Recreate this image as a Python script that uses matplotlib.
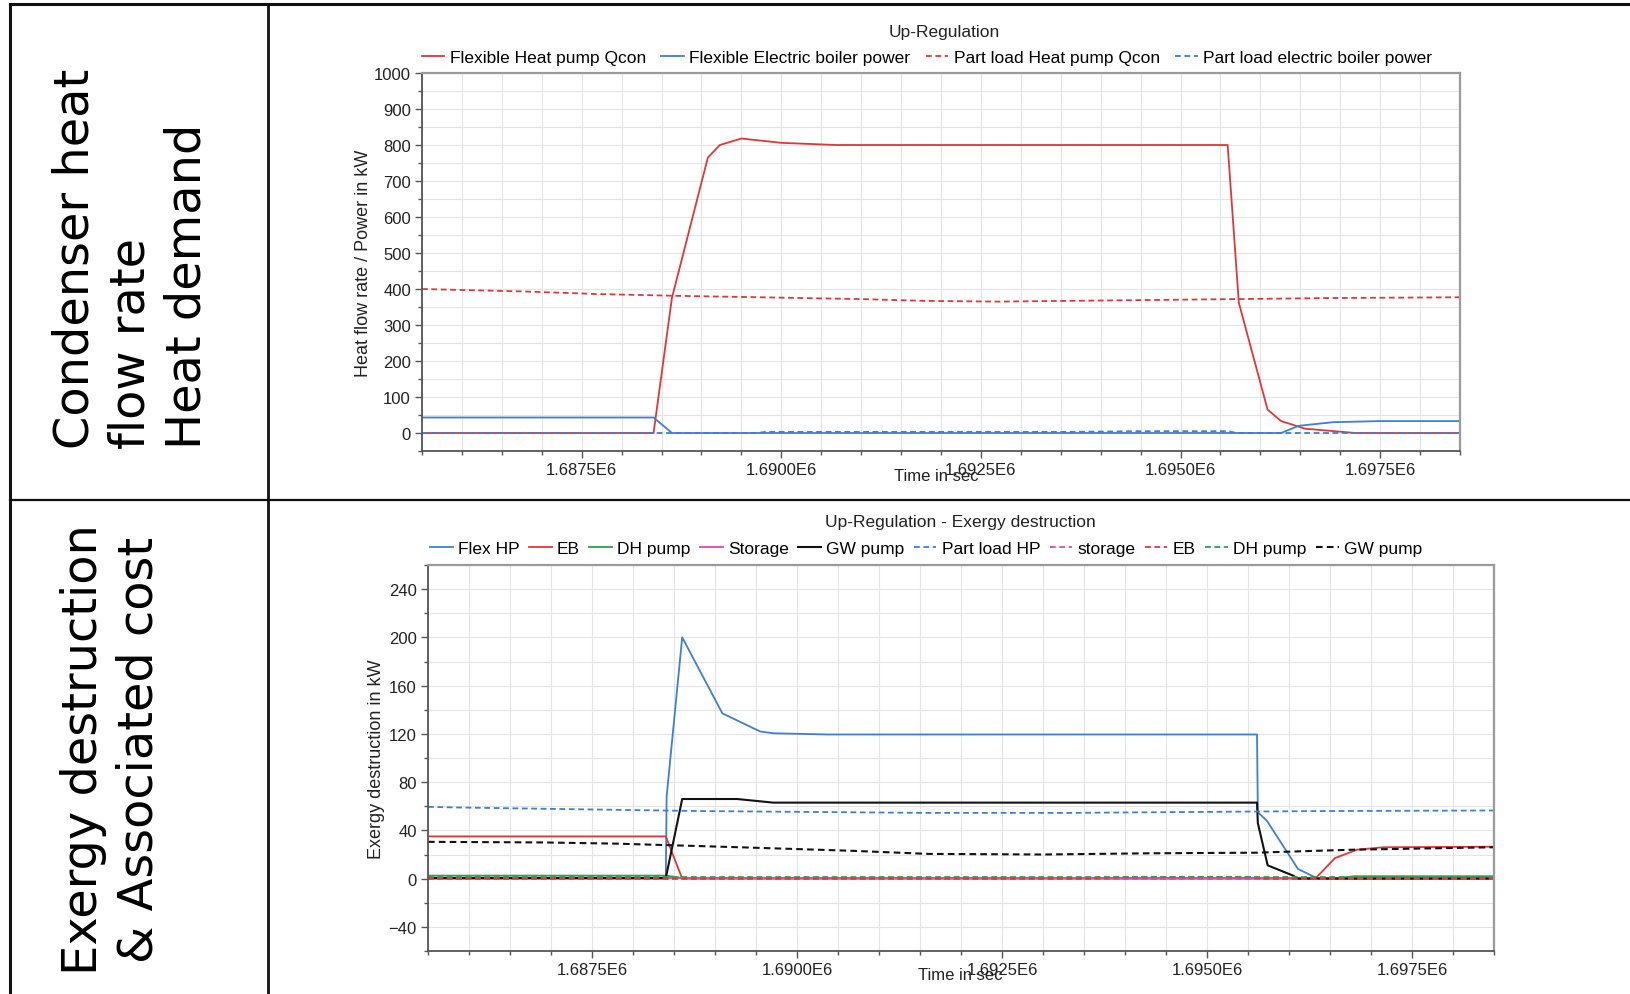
import matplotlib
matplotlib.use("Agg")
import matplotlib.pyplot as plt
from matplotlib.lines import Line2D
from matplotlib.ticker import MultipleLocator, FuncFormatter

plt.rcParams["font.family"] = ["Liberation Sans", "DejaVu Sans"]

RED = "#e0363a"
BLUE = "#3d7fd0"
GREEN = "#2e9e4f"
MAGENTA = "#e04aa8"
BLACK = "#111111"
DASH = (3.2, 2.0)

# ---- top chart: Up-Regulation (kW) ----
t_hp_flex = [1.6855e6, 1.6884e6, 1.68863e6, 1.68908e6, 1.68923e6, 1.6895e6, 1.6900e6,
             1.69069e6, 1.69559e6, 1.69573e6, 1.69609e6, 1.69626e6, 1.69656e6, 1.69719e6, 1.6985e6]
q_hp_flex = [0, 0, 375, 765, 800, 818, 806, 800, 800, 362, 65, 33, 12, 0, 0]

t_eb_flex = [1.6855e6, 1.6884e6, 1.68863e6, 1.69626e6, 1.69648e6, 1.69691e6, 1.69748e6, 1.6985e6]
p_eb_flex = [43, 43, 0, 0, 20, 30, 33, 33]

t_hp_part = [1.6855e6, 1.6868e6, 1.6877e6, 1.6887e6, 1.6900e6, 1.6910e6, 1.6918e6,
             1.6927e6, 1.6940e6, 1.6957e6, 1.6969e6, 1.6985e6]
q_hp_part = [400, 393, 386, 381, 376, 372, 367, 365, 368, 372, 375, 377]

t_eb_part = [1.6855e6, 1.6897e6, 1.6898e6, 1.6935e6, 1.6945e6, 1.6956e6, 1.6957e6, 1.6985e6]
p_eb_part = [0, 0, 3, 3, 5, 5, 0, 0]

top_labels = ["Flexible Heat pump Qcon", "Flexible Electric boiler power",
              "Part load Heat pump Qcon", "Part load electric boiler power"]

# ---- bottom chart: exergy destruction (kW) ----
t_x_hp = [1.6855e6, 1.6884e6, 1.68841e6, 1.6886e6, 1.68909e6, 1.68955e6, 1.68971e6, 1.69037e6,
          1.69561e6, 1.69562e6, 1.69573e6, 1.69611e6, 1.69629e6, 1.69638e6, 1.6985e6]
x_hp = [0, 0, 68, 200, 137, 122, 120.5, 119.5, 119.5, 55, 48, 8, 2, 0, 0]

t_x_eb = [1.6855e6, 1.6884e6, 1.6886e6, 1.69632e6, 1.69656e6, 1.69683e6, 1.69715e6, 1.6985e6]
x_eb = [35, 35, 0, 0, 17, 24, 26, 26.5]

t_x_dh = [1.6855e6, 1.6884e6, 1.6886e6, 1.6966e6, 1.6968e6, 1.6985e6]
x_dh = [2.5, 2.5, 0.5, 0.5, 2, 2]

t_x_st = [1.6855e6, 1.6985e6]
x_st = [0.3, 0.3]

t_x_gw = [1.6855e6, 1.6884e6, 1.6886e6, 1.68927e6, 1.68971e6, 1.69561e6, 1.69562e6,
          1.69574e6, 1.69605e6, 1.69611e6, 1.6985e6]
x_gw = [0.5, 0.5, 66, 66, 63, 63, 46, 11, 2.5, 0, 0]

t_xp_hp = [1.6855e6, 1.68585e6, 1.68732e6, 1.68784e6, 1.68885e6, 1.68976e6, 1.69154e6,
           1.69333e6, 1.69431e6, 1.69634e6, 1.6985e6]
xp_hp = [59.5, 59, 57.5, 57, 56, 55.5, 54.5, 54.5, 55, 56, 56.5]

t_xp_st = [1.6855e6, 1.6985e6]
xp_st = [0, 0]

t_xp_eb = [1.6855e6, 1.6935e6, 1.6940e6, 1.6955e6, 1.6957e6, 1.6985e6]
xp_eb = [0, 0, 1.5, 1.5, 0, 0]

t_xp_dh = [1.6855e6, 1.6985e6]
xp_dh = [1, 1]

t_xp_gw = [1.6855e6, 1.6869e6, 1.6878e6, 1.6893e6, 1.6907e6, 1.6916e6, 1.6930e6,
           1.6943e6, 1.6956e6, 1.6963e6, 1.6968e6, 1.6985e6]
xp_gw = [30.5, 30, 29, 26, 23, 20.5, 20, 21, 21.5, 23, 24, 26]

bottom_labels = ["Flex HP", "EB", "DH pump", "Storage", "GW pump",
                 "Part load HP", "storage", "EB", "DH pump", "GW pump"]

row_labels = ["Condenser heat\nflow rate\nHeat demand",
              "Exergy destruction\n& Associated cost"]


def style_axes(ax, ymin, ymax, ymajor, yminor):
    ax.set_xlim(1.6855e6, 1.6985e6)
    ax.set_ylim(ymin, ymax)
    ax.xaxis.set_major_locator(MultipleLocator(2500))
    ax.xaxis.set_minor_locator(MultipleLocator(500))
    ax.xaxis.set_major_formatter(FuncFormatter(lambda v, p: f"{v / 1e6:.4f}E6"))
    ax.yaxis.set_major_locator(MultipleLocator(ymajor))
    ax.yaxis.set_minor_locator(MultipleLocator(yminor))
    ax.grid(True, which="both", color="#e4e4e4", lw=0.8)
    ax.set_axisbelow(True)
    ax.tick_params(which="major", length=5, width=1, color="#555555",
                   labelsize=12, labelcolor="#222222", pad=3)
    ax.tick_params(which="minor", length=3, width=1, color="#555555")
    for side in ("left", "bottom"):
        ax.spines[side].set_color("#555555")
        ax.spines[side].set_linewidth(1.3)
    for side in ("top", "right"):
        ax.spines[side].set_color("#9a9a9a")
        ax.spines[side].set_linewidth(1.6)


fig = plt.figure(figsize=(16.3, 9.95), dpi=100)

# table frame
for xs, ys, lw in [((10 / 1630, 1), (1 - 5 / 995, 1 - 5 / 995), 2.2),
                   ((10 / 1630, 10 / 1630), (0, 1 - 5 / 995), 2.2),
                   ((268 / 1630, 268 / 1630), (0, 1 - 5 / 995), 2.0),
                   ((10 / 1630, 1), (1 - 501 / 995, 1 - 501 / 995), 1.6)]:
    fig.add_artist(Line2D(xs, ys, transform=fig.transFigure, color="#111111", lw=lw))

fig.text(131 / 1630, 1 - 449 / 995, row_labels[0], rotation=90, ha="center", va="bottom",
         multialignment="left", fontsize=34.5, family="DejaVu Sans", linespacing=1.24)
fig.text(111 / 1630, 1 - 750 / 995, row_labels[1], rotation=90, ha="center", va="center",
         multialignment="center", fontsize=34.5, family="DejaVu Sans", linespacing=1.24)

# ---- top axes ----
ax1 = fig.add_axes([422 / 1630, 1 - 452 / 995, 1038 / 1630, 378 / 995])
ax1.plot(t_hp_flex, q_hp_flex, color=RED, lw=1.3, label=top_labels[0])
ax1.plot(t_eb_flex, p_eb_flex, color=BLUE, lw=1.3, label=top_labels[1])
ax1.plot(t_hp_part, q_hp_part, color=RED, lw=1.3, dashes=DASH, label=top_labels[2])
ax1.plot(t_eb_part, p_eb_part, color=BLUE, lw=1.3, dashes=DASH, label=top_labels[3])
style_axes(ax1, -50, 1000, 100, 50)
ax1.set_ylabel("Heat flow rate / Power in kW", fontsize=13, color="#222222")
ax1.yaxis.set_label_coords(-0.048, 0.5)
ax1.set_xlabel("Time in sec", fontsize=12, color="#222222")
ax1.xaxis.set_label_coords(0.495, -0.045)
fig.text(944 / 1630, 1 - 32 / 995, "Up-Regulation", ha="center", va="center",
         fontsize=12.5, color="#222222")
ax1.legend(loc="center", bbox_to_anchor=(927 / 1630, 1 - 58 / 995), bbox_transform=fig.transFigure,
           ncol=4, frameon=False, fontsize=12.5, handlelength=1.3, handletextpad=0.3,
           columnspacing=0.9, borderpad=0)

# ---- bottom axes ----
ax2 = fig.add_axes([428 / 1630, 1 - 952 / 995, 1066 / 1630, 386 / 995])
ax2.plot(t_x_hp, x_hp, color=BLUE, lw=1.3, label=bottom_labels[0])
ax2.plot(t_x_eb, x_eb, color=RED, lw=1.3, label=bottom_labels[1])
ax2.plot(t_x_dh, x_dh, color=GREEN, lw=1.3, label=bottom_labels[2])
ax2.plot(t_x_st, x_st, color=MAGENTA, lw=1.3, label=bottom_labels[3])
ax2.plot(t_x_gw, x_gw, color=BLACK, lw=1.5, label=bottom_labels[4])
ax2.plot(t_xp_hp, xp_hp, color=BLUE, lw=1.3, dashes=DASH, label=bottom_labels[5])
ax2.plot(t_xp_st, xp_st, color=MAGENTA, lw=1.3, dashes=DASH, label=bottom_labels[6])
ax2.plot(t_xp_eb, xp_eb, color=RED, lw=1.3, dashes=DASH, label=bottom_labels[7])
ax2.plot(t_xp_dh, xp_dh, color=GREEN, lw=1.3, dashes=DASH, label=bottom_labels[8])
ax2.plot(t_xp_gw, xp_gw, color=BLACK, lw=1.5, dashes=DASH, label=bottom_labels[9])
style_axes(ax2, -60, 260, 40, 20)
ax2.set_ylabel("Exergy destruction in kW", fontsize=13, color="#222222")
ax2.yaxis.set_label_coords(-0.040, 0.5)
ax2.set_xlabel("Time in sec", fontsize=12, color="#222222")
ax2.xaxis.set_label_coords(0.499, -0.041)
fig.text(960 / 1630, 1 - 522 / 995, "Up-Regulation - Exergy destruction", ha="center",
         va="center", fontsize=12.5, color="#222222")
ax2.legend(loc="center", bbox_to_anchor=(926 / 1630, 1 - 549 / 995), bbox_transform=fig.transFigure,
           ncol=10, frameon=False, fontsize=12.5, handlelength=1.3, handletextpad=0.3,
           columnspacing=0.55, borderpad=0)

fig.savefig("out.png", dpi=100)
